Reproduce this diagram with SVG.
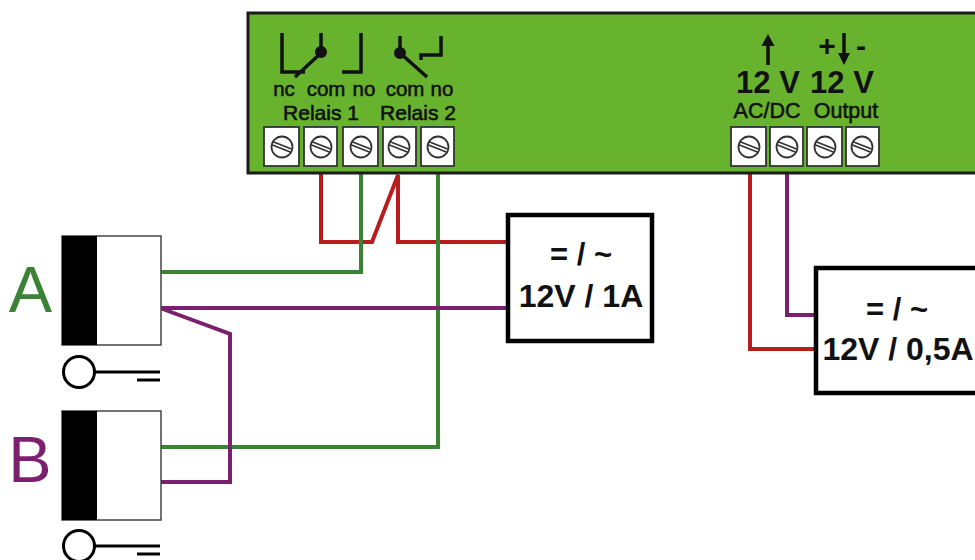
<svg xmlns="http://www.w3.org/2000/svg" width="975" height="560" viewBox="0 0 975 560">
<style>
text{font-family:"Liberation Sans",Arial,sans-serif;fill:#111;text-anchor:middle}
.b{font-weight:bold}
.m{font-size:21.5px;stroke:#111;stroke-width:.55}
.s{font-size:20.5px;stroke:#111;stroke-width:.55}
.n{font-size:21px;stroke:#111;stroke-width:.6}
.big{font-size:31px;font-weight:bold}
.eq{font-size:31px;font-weight:bold}
.pv{font-size:32px;font-weight:bold}
.ltr{font-size:65px}
.sym{fill:none;stroke:#111;stroke-width:3.5}
.t{fill:#fff;stroke:#333;stroke-width:1.8}
.sc{fill:none;stroke:#333;stroke-width:1.8}
.w{fill:none;stroke-width:4}
.r{stroke:#b81c1c}.g{stroke:#3a8234}.p{stroke:#7c1f6e}
.bl{fill:#000}
.lk{fill:#fff;stroke:#444;stroke-width:1.5}
.key{fill:none;stroke:#000;stroke-width:3}
.ps{fill:#fff;stroke:#000;stroke-width:4.5}
</style>
<defs>
<g id="screw">
<circle r="10.5" class="sc"/>
<path d="M-9.5,-5L9.5,2.5M-9.5,-1.5L9.5,6" class="sc" transform="translate(0,-.5)"/>
</g>
<g id="key">
<circle cx="79" cy="372" r="15.5" class="key"/>
<path d="M95,372H160M137,380H160" class="key"/>
</g>
</defs>
<rect width="975" height="560" fill="#fff"/>
<g id="connectors">
<path class="w r" d="M321,173V242H372L398,175V242H508"/>
<path class="w g" d="M361,173V272H160"/>
<path class="w g" d="M438,173V447H160"/>
<path class="w p" d="M160,308H508"/>
<path class="w p" d="M160,308L230,334V482H160"/>
<path class="w r" d="M750,173V349H816"/>
<path class="w p" d="M787,173V315H816"/>
</g>
<g id="controller">
<rect x="248" y="13" width="740" height="160" fill="#67b32e" stroke="#1c1c1c" stroke-width="3"/>
<path class="sym" d="M282,33V72H305M321,33V53M295,77L321,53M361,33V72H342"/>
<circle cx="321" cy="52" r="6" fill="#111"/>
<path class="sym" d="M400,36V53L427,77M441,36V55H421V60"/>
<circle cx="400" cy="53" r="6" fill="#111"/>
<text x="284" y="95.500" class="s">nc</text>
<text x="326" y="95.500" class="s">com</text>
<text x="364" y="95.500" class="s">no</text>
<text x="405" y="95.500" class="s">com</text>
<text x="442" y="95.500" class="s">no</text>
<text x="321" y="119.500" class="n">Relais 1</text>
<text x="418" y="119.500" class="n">Relais 2</text>
<g id="terminals">
<rect class="t" x="264" y="127" width="35" height="39"/><use href="#screw" x="282" y="147"/>
<rect class="t" x="304" y="127" width="33" height="39"/><use href="#screw" x="321" y="147"/>
<rect class="t" x="343" y="127" width="35" height="39"/><use href="#screw" x="361" y="147"/>
<rect class="t" x="383" y="127" width="33" height="39"/><use href="#screw" x="399" y="147"/>
<rect class="t" x="421" y="127" width="33" height="39"/><use href="#screw" x="438" y="147"/>
<rect class="t" x="731" y="127" width="35" height="39"/><use href="#screw" x="749" y="147"/>
<rect class="t" x="770" y="127" width="33" height="39"/><use href="#screw" x="787" y="147"/>
<rect class="t" x="807" y="127" width="35" height="39"/><use href="#screw" x="825" y="147"/>
<rect class="t" x="846" y="127" width="33" height="39"/><use href="#screw" x="862" y="147"/>
</g>
<path d="M768,65V44" fill="none" stroke="#111" stroke-width="3.5"/>
<path d="M761.500,46L768,34L774.500,46Z" fill="#111"/>
<path d="M844,33V54" fill="none" stroke="#111" stroke-width="3.5"/>
<path d="M838,53L844,65L850,53Z" fill="#111"/>
<text x="827" y="56" font-size="30" class="b">+</text>
<text x="861" y="56" font-size="30" class="b">-</text>
<text x="768" y="93" class="big">12 V</text>
<text x="842" y="93" class="big">12 V</text>
<text x="767" y="118" class="m">AC/DC</text>
<text x="846" y="118" class="m">Output</text>
</g>
<g id="reader-a">
<rect class="lk" x="62" y="236" width="99" height="109"/>
<rect class="bl" x="62" y="236" width="35" height="109"/>
<use href="#key"/>
<text x="30.500" y="312" class="ltr" style="fill:#3a8234">A</text>
</g>
<g id="reader-b">
<rect class="lk" x="62" y="411" width="99" height="109"/>
<rect class="bl" x="62" y="411" width="35" height="109"/>
<use href="#key" y="174"/>
<text x="30" y="482" class="ltr" style="fill:#7c1f6e">B</text>
</g>
<g id="psu-1">
<rect class="ps" x="508" y="215" width="144" height="126"/>
<text x="581" y="265" class="eq">= / ~</text>
<text x="581" y="307" class="pv">12V / 1A</text>
</g>
<g id="psu-2">
<rect class="ps" x="816" y="268" width="170" height="125"/>
<text x="897" y="320" class="eq">= / ~</text>
<text x="898" y="360" class="pv">12V / 0,5A</text>
</g>
</svg>
